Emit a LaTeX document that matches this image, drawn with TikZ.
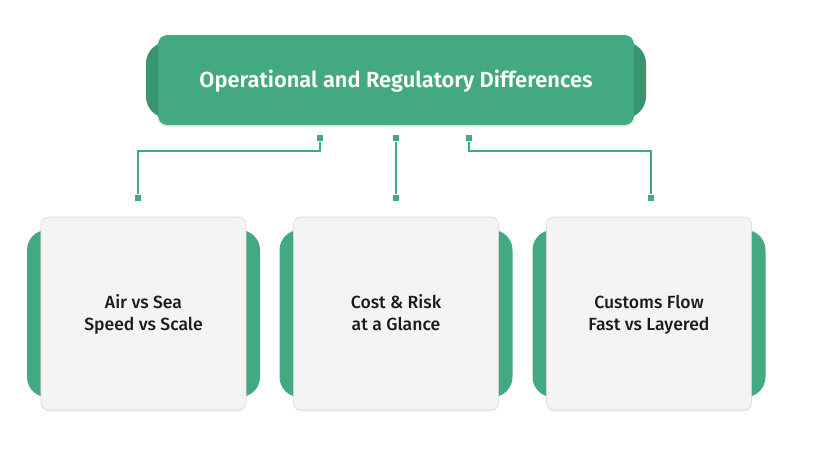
\documentclass[tikz,border=0pt]{standalone}
\usepackage{fontspec}
\setmainfont{Fira Sans}
\newfontfamily\medfont{Fira Sans Medium}
\newfontfamily\semifont{Fira Sans SemiBold}
\usetikzlibrary{positioning,shadows}
\definecolor{diffgreen}{HTML}{43A980}
\definecolor{diffdark}{HTML}{389570}
\definecolor{diffcard}{HTML}{F4F4F4}
\definecolor{diffedge}{HTML}{D6D6D6}
\definecolor{diffink}{HTML}{1B1B1B}
\newcommand{\cardtop}{\rule{0pt}{14.6pt}}

\tikzset{
  titlebox/.style={fill=diffgreen,rounded corners=7pt,minimum width=357pt,
    minimum height=67.5pt,text=white,font=\semifont\fontsize{16.4}{19}\selectfont,
    text depth=1.5pt,
    drop shadow={shadow xshift=0pt,shadow yshift=-1.5pt,opacity=.18}},
  titleback/.style={fill=diffdark,rounded corners=16pt,minimum width=375pt,
    minimum height=57pt},
  cardbox/.style={fill=diffcard,draw=diffedge,line width=.4pt,rounded corners=6pt,
    minimum width=154pt,minimum height=144.75pt,text=diffink,align=center,
    font=\medfont\fontsize{13.2}{16.5}\selectfont,
    drop shadow={shadow xshift=0pt,shadow yshift=-1pt,opacity=.15}},
  cardback/.style={fill=diffgreen,rounded corners=15pt,minimum width=174.75pt,
    minimum height=125.25pt},
  pin/.style={fill=diffgreen,minimum size=5pt,inner sep=0pt},
  link/.style={diffgreen,line width=1pt}
}

\begin{document}
\begin{tikzpicture}[x=0.75pt,y=-0.75pt]
    \useasboundingbox (0,0) rectangle (828,475);
    % header
    \node[titleback] (titleb) at (396,80) {};
    \node[titlebox] (title) at (396,80) {Operational and Regulatory Differences};
    % cards
    \node[cardback] (airb) at (143.5,313.5) {};
    \node[cardbox] (air) at (143.5,313.5) {\cardtop Air vs Sea\\Speed vs Scale\strut};
    \node[cardback] (costb) at (396,313.5) {};
    \node[cardbox] (cost) at (396,313.5) {\cardtop Cost \& Risk\\at a Glance\strut};
    \node[cardback] (custb) at (649,313.5) {};
    \node[cardbox] (cust) at (649,313.5) {\cardtop Customs Flow\\Fast vs Layered\strut};
    % pins
    \node[pin] (p1) at (320,138) {};
    \node[pin] (p2) at (396,138) {};
    \node[pin] (p3) at (469,138) {};
    \node[pin] (q1) at (138,198) {};
    \node[pin] (q2) at (396,198) {};
    \node[pin] (q3) at (651,198) {};
    % connectors
    \draw[link] (p1) |- (229,151) -| (q1);
    \draw[link] (p2) -- (q2);
    \draw[link] (p3) |- (560,151) -| (q3);
\end{tikzpicture}
\end{document}
